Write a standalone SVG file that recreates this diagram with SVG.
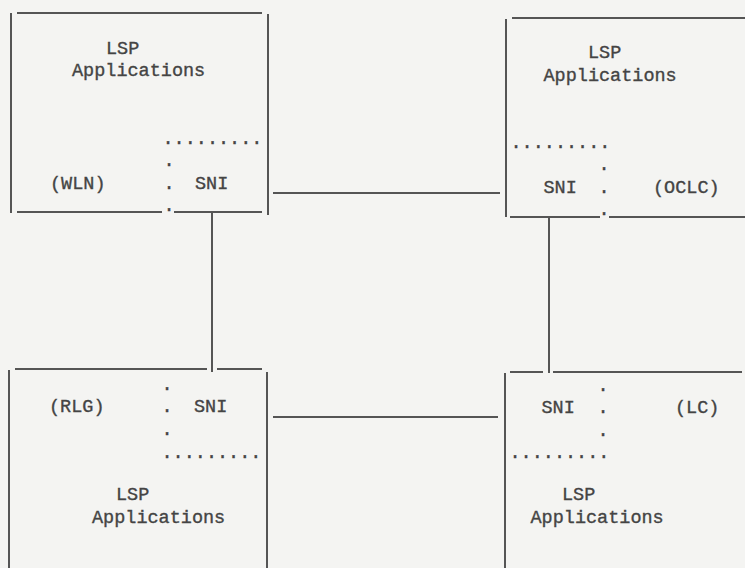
<svg xmlns="http://www.w3.org/2000/svg" width="745" height="568" viewBox="0 0 745 568">
  <style>
    .ln { stroke: #555; stroke-width: 2; fill: none; stroke-linecap: butt; }
    .tx { font-family: "Liberation Mono", "Courier New", monospace; font-size: 18.5px; fill: #444; stroke: #444; stroke-width: 0.35; }
    .dt { font-family: "Liberation Mono", "Courier New", monospace; font-size: 18.5px; fill: #444; stroke: #444; stroke-width: 0.35; text-anchor: middle; }
  </style>
  <rect width="745" height="568" fill="#f4f4f2"/>

  <g id="node-wln">
    <path class="ln" d="M11 13 V213 M17 13 H262 M268 14 V215 M17 212 H162 M174 212 H262"/>
    <text class="tx" x="106" y="54">LSP</text>
    <text class="tx" x="72" y="76">Applications</text>
    <text class="tx" x="162.5" y="144">.........</text>
    <text class="dt" x="169" y="166">.</text>
    <text class="dt" x="169" y="189">.</text>
    <text class="dt" x="169" y="211">.</text>
    <text class="tx" x="50" y="189">(WLN)</text>
    <text class="tx" x="195" y="189">SNI</text>
  </g>

  <g id="node-oclc">
    <path class="ln" d="M506 19 V217 M512 18 H745 M510 217 H600 M609 217 H745"/>
    <text class="tx" x="588" y="58">LSP</text>
    <text class="tx" x="543.5" y="81">Applications</text>
    <text class="tx" x="510.5" y="148">.........</text>
    <text class="dt" x="604" y="170">.</text>
    <text class="dt" x="604" y="193">.</text>
    <text class="dt" x="604" y="215">.</text>
    <text class="tx" x="543.5" y="193">SNI</text>
    <text class="tx" x="653" y="193">(OCLC)</text>
  </g>

  <g id="node-rlg">
    <path class="ln" d="M9 370 V568 M15 369 H207 M217 369 H262 M267 372 V568"/>
    <text class="tx" x="49" y="412">(RLG)</text>
    <text class="tx" x="194" y="412">SNI</text>
    <text class="dt" x="167" y="390">.</text>
    <text class="dt" x="167" y="412">.</text>
    <text class="dt" x="167" y="435">.</text>
    <text class="tx" x="161.5" y="458">.........</text>
    <text class="tx" x="116" y="500">LSP</text>
    <text class="tx" x="92" y="523">Applications</text>
  </g>

  <g id="node-lc">
    <path class="ln" d="M505 373 V568 M510 372 H543 M553 372 H742"/>
    <text class="tx" x="541.5" y="413">SNI</text>
    <text class="dt" x="603" y="391">.</text>
    <text class="dt" x="603" y="413">.</text>
    <text class="dt" x="603" y="436">.</text>
    <text class="tx" x="675" y="413">(LC)</text>
    <text class="tx" x="509.5" y="458">.........</text>
    <text class="tx" x="562" y="500">LSP</text>
    <text class="tx" x="530.5" y="523">Applications</text>
  </g>

  <g id="connectors">
    <path class="ln" d="M273 193 H500"/>
    <path class="ln" d="M273 417 H498"/>
    <path class="ln" d="M212 213 V372"/>
    <path class="ln" d="M549 217 V373"/>
  </g>
</svg>
